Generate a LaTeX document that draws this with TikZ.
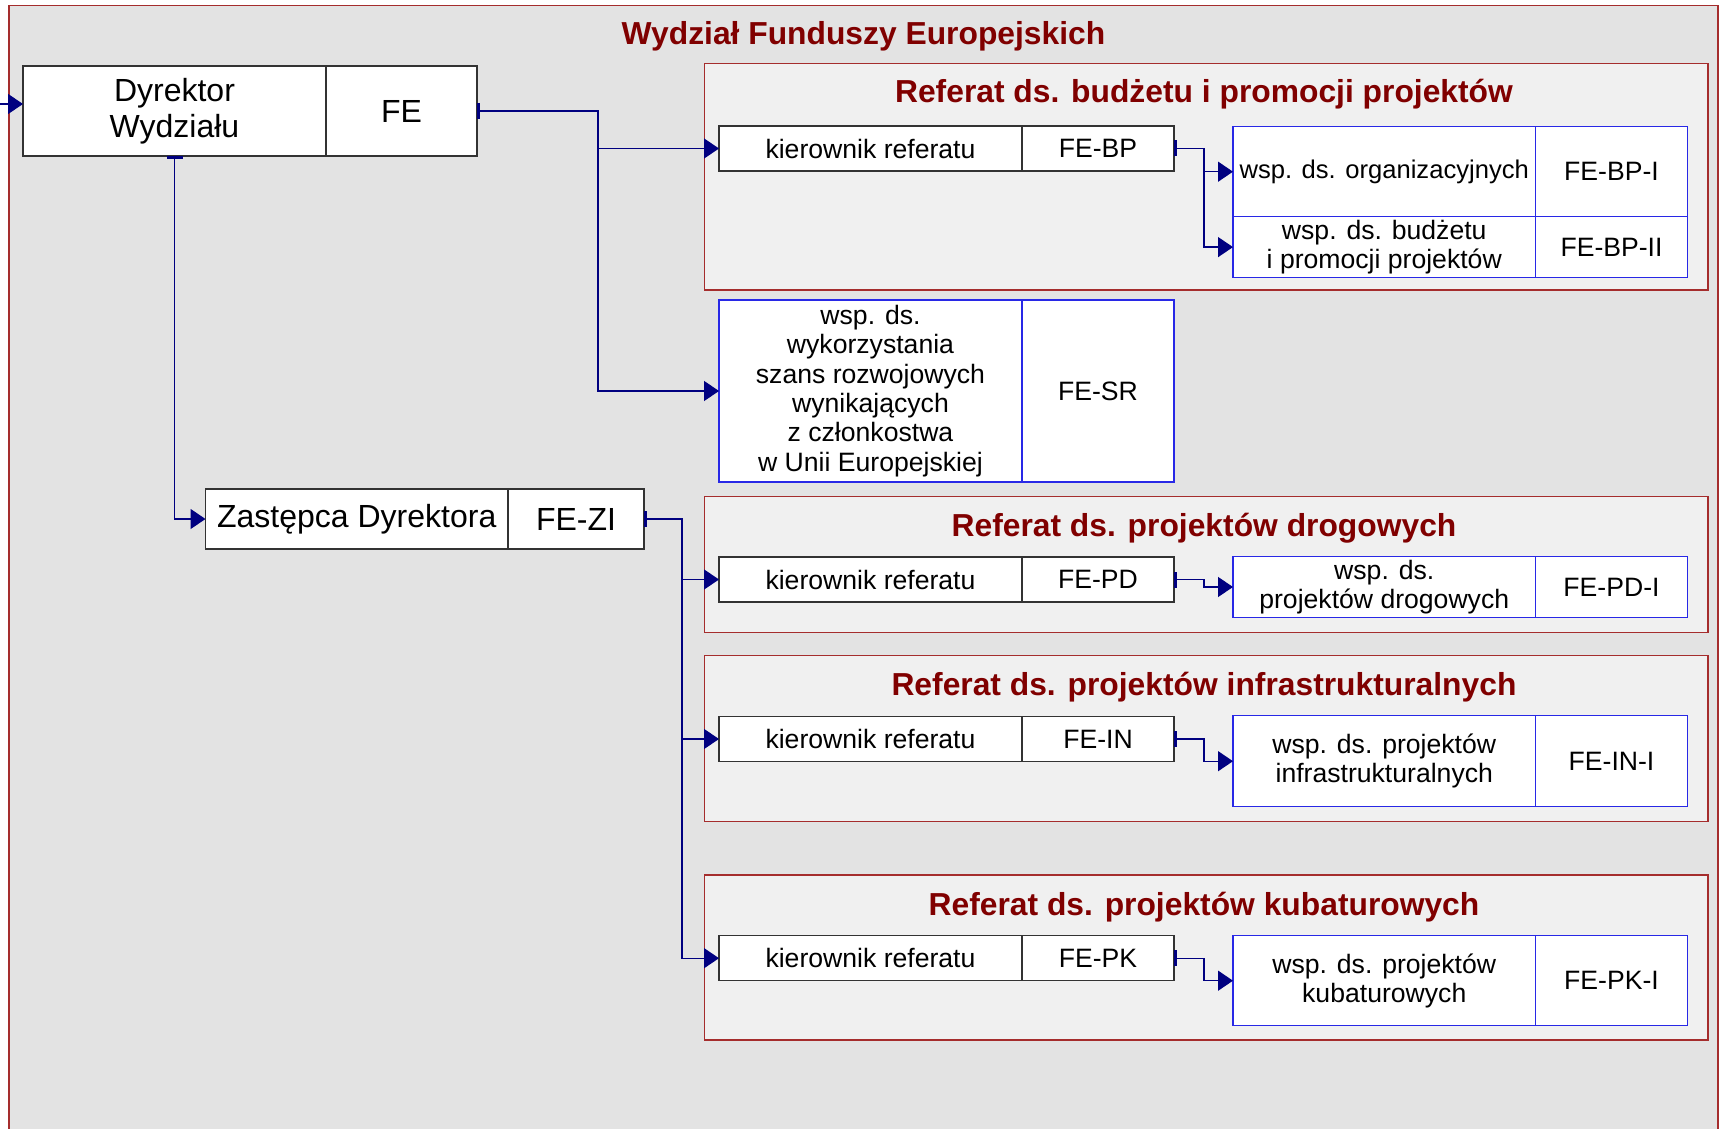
\documentclass[tikz,border=0pt]{standalone}
\usepackage{fontspec}
\setmainfont{Liberation Sans}
\usetikzlibrary{positioning,arrows.meta}
\definecolor{framered}{RGB}{165,45,45}
\definecolor{titlered}{RGB}{128,0,0}
\definecolor{outerbg}{RGB}{227,227,227}
\definecolor{refbg}{RGB}{240,240,240}
\definecolor{wspblue}{RGB}{40,40,230}
\definecolor{linenavy}{RGB}{0,0,128}

\tikzset{
	cell/.style={draw=black!80, fill=white, inner sep=1pt, outer sep=0pt, align=center, line width=0.6pt},
	bodytext/.style={font=\fontsize{13.3}{14.7}\selectfont},
	bigtext/.style={font=\fontsize{16}{18}\selectfont},
	kier/.style={cell, bodytext},
	wsp/.style={cell, bodytext, draw=wspblue},
	conn/.style={draw=linenavy, line width=0.7pt, {Bar[width=8pt,line width=1.4pt]}-{Triangle[length=7.5pt,width=10pt]}},
	refframe/.style={draw=framered, fill=refbg, line width=0.6pt},
	reftitle/.style={font=\fontsize{15.9}{18}\selectfont\bfseries, text=titlered, anchor=base},
}

\begin{document}
\begin{tikzpicture}[x=0.5pt,y=-0.5pt]
		\useasboundingbox (0,0) rectangle (1726,1129);
		\fill[outerbg] (9,5.5) rectangle (1718,1129);
		\draw[framered, line width=0.6pt] (9,1129) -- (9,5.5) -- (1718,5.5) -- (1718,1129);
		\node[reftitle] (wydzial) at (863.5,45) {Wydział Funduszy Europejskich};
		
		% referaty
		\draw[refframe] (704.6,63.3) rectangle (1708,290);
		\draw[refframe] (704.6,496.7) rectangle (1708,632.7);
		\draw[refframe] (704.6,655.7) rectangle (1708,821.7);
		\draw[refframe] (704.6,875) rectangle (1708,1040);
		\node[reftitle] (tBP) at (1204,103) {Referat ds. budżetu i promocji projektów};
		\node[reftitle] (tPD) at (1204,536.5) {Referat ds. projektów drogowych};
		\node[reftitle] (tIN) at (1204,695) {Referat ds. projektów infrastrukturalnych};
		\node[reftitle] (tPK) at (1204,915) {Referat ds. projektów kubaturowych};
		
		% kierownictwo
		\node[cell, bigtext, minimum width=151.5pt, minimum height=45pt, anchor=north west] (dyr) at (23,66) {Dyrektor\\Wydziału};
		\node[cell, bigtext, minimum width=75.5pt, minimum height=45pt, right=0pt of dyr] (dyrcode) {FE};
		\node[cell, bigtext, minimum width=151.25pt, minimum height=30pt, anchor=north west] (zast) at (205.5,489) {Zastępca Dyrektora};
		\node[cell, bigtext, minimum width=68pt, minimum height=30pt, right=0pt of zast] (zastcode) {FE-ZI};
		
		% kierownicy referatow
		\foreach \r/\y in {BP/126, PD/557, IN/716.5, PK/935.7}{
			\node[kier, minimum width=151.5pt, minimum height=22.5pt, anchor=north west] (kier\r) at (719,\y) {kierownik referatu};
			\node[kier, minimum width=76pt, minimum height=22.5pt, right=0pt of kier\r] (kier\r code) {FE-\r};
		}
		
		% stanowiska
		\node[wsp, minimum width=151.5pt, minimum height=91pt, anchor=north west] (sr) at (719,300) {wsp. ds.\\wykorzystania\\szans rozwojowych\\wynikających\\z członkostwa\\w Unii Europejskiej};
		\node[wsp, minimum width=76pt, minimum height=91pt, right=0pt of sr] (srcode) {FE-SR};
		\node[wsp, font=\fontsize{12.8}{14.7}\selectfont, inner xsep=0pt, minimum width=151.25pt, minimum height=45.1pt, anchor=north west] (wspBPa) at (1233,126.6) {wsp. ds. organizacyjnych};
		\node[wsp, minimum width=76pt, minimum height=45.1pt, right=0pt of wspBPa] (wspBPacode) {FE-BP-I};
		\node[wsp, minimum width=151.25pt, minimum height=30.3pt, anchor=north west] (wspBPb) at (1233,216.8) {wsp. ds. budżetu\\i promocji projektów};
		\node[wsp, minimum width=76pt, minimum height=30.3pt, right=0pt of wspBPb] (wspBPbcode) {FE-BP-II};
		\node[wsp, minimum width=151.25pt, minimum height=30.3pt, anchor=north west] (wspPD) at (1233,556.7) {wsp. ds.\\projektów drogowych};
		\node[wsp, minimum width=76pt, minimum height=30.3pt, right=0pt of wspPD] (wspPDcode) {FE-PD-I};
		\node[wsp, minimum width=151.25pt, minimum height=45.5pt, anchor=north west] (wspIN) at (1233,715.7) {wsp. ds. projektów\\infrastrukturalnych};
		\node[wsp, minimum width=76pt, minimum height=45.5pt, right=0pt of wspIN] (wspINcode) {FE-IN-I};
		\node[wsp, minimum width=151.25pt, minimum height=45pt, anchor=north west] (wspPK) at (1233,935.7) {wsp. ds. projektów\\kubaturowych};
		\node[wsp, minimum width=76pt, minimum height=45pt, right=0pt of wspPK] (wspPKcode) {FE-PK-I};
		
		% polaczenia
		\coordinate (inD) at (0,104);
		\coordinate (dbus) at (598,0);
		\coordinate (zbus) at (682,0);
		\coordinate (wbus) at (1204,0);
		\draw[draw=linenavy, line width=0.7pt, -{Triangle[length=7.5pt,width=10pt]}] (inD) -- (inD -| dyr.west);
		\draw[conn] (dyrcode.east) -- (dyrcode.east -| dbus) |- (kierBP.west);
		\draw[conn] (dyrcode.east) -- (dyrcode.east -| dbus) |- (sr.west);
		\draw[conn] (dyr.south) |- (zast.west);
		\foreach \r in {PD,IN,PK}{
			\draw[conn] (zastcode.east) -- (zastcode.east -| zbus) |- (kier\r.west);
			\draw[conn] (kier\r code.east) -- (kier\r code.east -| wbus) |- (wsp\r.west);
		}
		\draw[conn] (kierBPcode.east) -- (kierBPcode.east -| wbus) |- (wspBPa.west);
		\draw[conn] (kierBPcode.east) -- (kierBPcode.east -| wbus) |- (wspBPb.west);
\end{tikzpicture}
\end{document}
